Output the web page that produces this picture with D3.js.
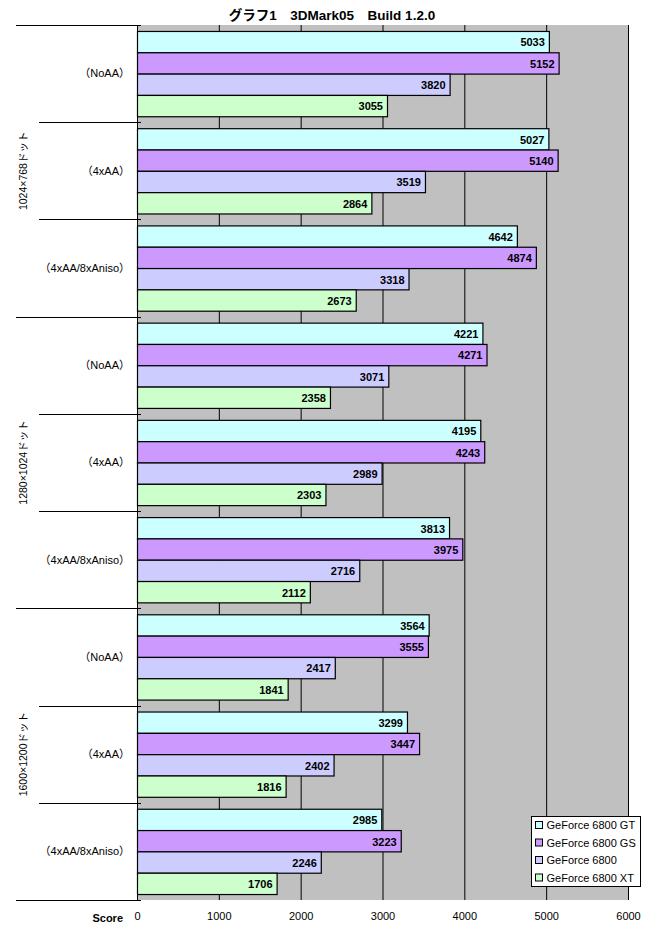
<!DOCTYPE html>
<html>
<head>
<meta charset="utf-8">
<script src="https://cdn.jsdelivr.net/npm/d3@7"></script>
<style>
  body { margin: 0; background: #fff; }
  text { font-family: "Liberation Sans", Arial, "Noto Sans CJK JP", sans-serif; }
</style>
</head>
<body>
<svg class="chart"></svg>
<script>
const resolutions = ["1024×768ドット", "1280×1024ドット", "1600×1200ドット"];
const settings = ["（NoAA）", "（4xAA）", "（4xAA/8xAniso）"];
const seriesNames = ["GeForce 6800 GT", "GeForce 6800 GS", "GeForce 6800", "GeForce 6800 XT"];
const colors = ["#ccffff", "#cc99ff", "#ccccff", "#ccffcc"];
const gt   = [5033, 5027, 4642, 4221, 4195, 3813, 3564, 3299, 2985];
const gs   = [5152, 5140, 4874, 4271, 4243, 3975, 3555, 3447, 3223];
const base = [3820, 3519, 3318, 3071, 2989, 2716, 2417, 2402, 2246];
const xt   = [3055, 2864, 2673, 2358, 2303, 2112, 1841, 1816, 1706];
const xTicks = [0, 1000, 2000, 3000, 4000, 5000, 6000];

const series = [gt, gs, base, xt];
const rows = [];
resolutions.forEach((r, i) => settings.forEach((s, j) => rows.push({ id: i * 3 + j, res: r, set: s })));

const width = 647, height = 932;
const margin = { top: 25, right: 19, bottom: 32, left: 137 };

const svg = d3.select(".chart")
    .attr("width", width)
    .attr("height", height);

const x = d3.scaleLinear()
    .domain([0, 6000])
    .range([margin.left, width - margin.right]);

const y = d3.scaleBand()
    .domain(rows.map(d => d.id))
    .range([margin.top, height - margin.bottom]);

const yRes = d3.scaleBand()
    .domain(resolutions)
    .range([margin.top, height - margin.bottom]);

const yInner = d3.scaleBand()
    .domain(d3.range(4))
    .range([0, y.bandwidth()])
    .paddingOuter(0.28);

// plot background
svg.append("rect")
    .attr("x", x(0))
    .attr("y", margin.top)
    .attr("width", x(6000) - x(0))
    .attr("height", height - margin.bottom - margin.top)
    .attr("fill", "#c0c0c0");

// gridlines
svg.append("g")
    .selectAll("line")
    .data(xTicks.slice(1))
    .enter().append("line")
    .attr("x1", d => x(d) + 0.5)
    .attr("x2", d => x(d) + 0.5)
    .attr("y1", margin.top)
    .attr("y2", height - margin.bottom)
    .attr("stroke", "#000");

// bars
const groups = svg.append("g")
    .selectAll("g")
    .data(rows)
    .enter().append("g")
    .attr("transform", d => `translate(0, ${y(d.id)})`);

groups.selectAll("rect")
    .data(d => series.map((s, k) => ({ k, value: s[d.id] })))
    .enter().append("rect")
    .attr("x", x(0) + 0.5)
    .attr("y", d => yInner(d.k) + 0.5)
    .attr("width", d => x(d.value) - x(0))
    .attr("height", yInner.bandwidth())
    .attr("fill", d => colors[d.k])
    .attr("stroke", "#000")
    .attr("stroke-width", 1.2);

groups.selectAll("text")
    .data(d => series.map((s, k) => ({ k, value: s[d.id] })))
    .enter().append("text")
    .attr("x", d => x(d.value) - 4)
    .attr("y", d => yInner(d.k) + yInner.bandwidth() / 2 + 1)
    .attr("dy", "0.35em")
    .attr("text-anchor", "end")
    .attr("font-size", 11)
    .attr("font-weight", "bold")
    .text(d => d.value);

// left axis and category ticks
svg.append("line")
    .attr("x1", x(0) + 0.5).attr("x2", x(0) + 0.5)
    .attr("y1", margin.top).attr("y2", height - margin.bottom)
    .attr("stroke", "#000");

svg.append("g")
    .selectAll("line")
    .data(d3.range(rows.length + 1))
    .enter().append("line")
    .attr("x1", i => i % 3 === 0 ? 16 : 39)
    .attr("x2", x(0) + 4)
    .attr("y1", i => Math.round(margin.top + i * y.step()) + 0.5)
    .attr("y2", i => Math.round(margin.top + i * y.step()) + 0.5)
    .attr("stroke", "#000");

svg.append("g")
    .selectAll("text")
    .data(rows)
    .enter().append("text")
    .attr("x", 130)
    .attr("y", d => y(d.id) + y.bandwidth() / 2)
    .attr("dy", "0.35em")
    .attr("text-anchor", "end")
    .attr("font-size", 11)
    .text(d => d.set);

svg.append("g")
    .selectAll("text")
    .data(resolutions)
    .enter().append("text")
    .attr("transform", d => `translate(27, ${yRes(d) + yRes.bandwidth() / 2}) rotate(-90)`)
    .attr("text-anchor", "middle")
    .attr("font-size", 10.5)
    .text(d => d);

// bottom axis
svg.append("g")
    .attr("transform", `translate(0, ${height - margin.bottom})`)
    .call(d3.axisBottom(x).tickValues(xTicks).tickFormat(d3.format("d")).tickSize(0).tickPadding(12))
    .call(g => g.select(".domain").remove())
    .call(g => g.selectAll("text").attr("font-size", 11).attr("font-family", null));

svg.append("text")
    .attr("x", 123)
    .attr("y", height - margin.bottom + 22)
    .attr("text-anchor", "end")
    .attr("font-size", 11)
    .attr("font-weight", "bold")
    .text("Score");

// title
svg.append("text")
    .attr("x", 332)
    .attr("y", 20)
    .attr("text-anchor", "middle")
    .attr("font-size", 13.5)
    .attr("font-weight", "bold")
    .text("グラフ1　3DMark05　Build 1.2.0");

// legend
const legend = svg.append("g").attr("transform", "translate(531.5, 816.5)");
legend.append("rect")
    .attr("width", 109)
    .attr("height", 70)
    .attr("fill", "#fff")
    .attr("stroke", "#000");
const items = legend.selectAll("g.item")
    .data(seriesNames)
    .enter().append("g")
    .attr("class", "item")
    .attr("transform", (d, i) => `translate(4, ${9 + i * 17.5})`);
items.append("rect")
    .attr("y", -4)
    .attr("width", 7)
    .attr("height", 7)
    .attr("fill", (d, i) => colors[i])
    .attr("stroke", "#000");
items.append("text")
    .attr("x", 11)
    .attr("dy", "0.35em")
    .attr("font-size", 11)
    .text(d => d);
</script>
</body>
</html>
